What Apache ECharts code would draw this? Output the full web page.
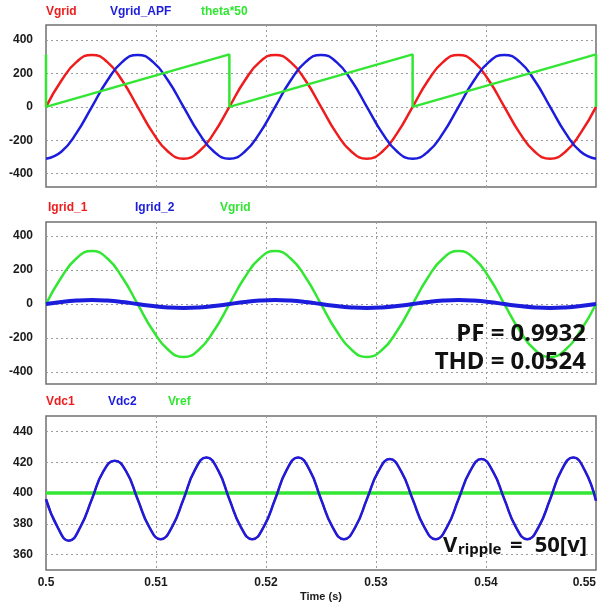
<!DOCTYPE html>
<html>
  <head>
    <meta charset="UTF-8">
    <title>Vgrid / Igrid / Vdc</title>
    <script src="https://cdn.jsdelivr.net/npm/echarts@6/dist/echarts.min.js"></script>
  </head>
  <body style="margin:0;background:#fff">
    <div id="box" style="width:600px;height:606px"></div>
    <script>
        // 60 Hz signals, one sample every 30 deg
        var time60 = [0.5, 0.50139, 0.50278, 0.50417, 0.50556, 0.50694, 0.50833, 0.50972, 0.51111, 0.5125,
            0.51389, 0.51528, 0.51667, 0.51806, 0.51944, 0.52083, 0.52222, 0.52361, 0.525, 0.52639,
            0.52778, 0.52917, 0.53056, 0.53194, 0.53333, 0.53472, 0.53611, 0.5375, 0.53889, 0.54028,
            0.54167, 0.54306, 0.54444, 0.54583, 0.54722, 0.54861, 0.55];
        var vgrid = [0, 156, 269, 311, 269, 156, 0, -156, -269, -311, -269, -156,
            0, 156, 269, 311, 269, 156, 0, -156, -269, -311, -269, -156,
            0, 156, 269, 311, 269, 156, 0, -156, -269, -311, -269, -156, 0];
        var vgridApf = [-311, -269, -156, 0, 156, 269, 311, 269, 156, 0, -156, -269,
            -311, -269, -156, 0, 156, 269, 311, 269, 156, 0, -156, -269,
            -311, -269, -156, 0, 156, 269, 311, 269, 156, 0, -156, -269, -311];
        var thetaTime = [0.5, 0.5, 0.51667, 0.51667, 0.53333, 0.53333, 0.55, 0.55];
        var theta50 = [314, 0, 314, 0, 314, 0, 314, 0];
        var igrid1 = [0, 12, 20, 23, 20, 12, 0, -12, -20, -23, -20, -12,
            0, 12, 20, 23, 20, 12, 0, -12, -20, -23, -20, -12,
            0, 12, 20, 23, 20, 12, 0, -12, -20, -23, -20, -12, 0];
        var igrid2 = [0, 12, 20, 23, 20, 12, 0, -12, -20, -23, -20, -12,
            0, 12, 20, 23, 20, 12, 0, -12, -20, -23, -20, -12,
            0, 12, 20, 23, 20, 12, 0, -12, -20, -23, -20, -12, 0];

        // dc link, 120 Hz ripple, one sample every 45 deg
        var timeDc = [0.5, 0.50104, 0.50208, 0.50313, 0.50417, 0.50521, 0.50625, 0.50729, 0.50833, 0.50938,
            0.51042, 0.51146, 0.5125, 0.51354, 0.51458, 0.51563, 0.51667, 0.51771, 0.51875, 0.51979,
            0.52083, 0.52188, 0.52292, 0.52396, 0.525, 0.52604, 0.52708, 0.52813, 0.52917, 0.53021,
            0.53125, 0.53229, 0.53333, 0.53438, 0.53542, 0.53646, 0.5375, 0.53854, 0.53958, 0.54063,
            0.54167, 0.54271, 0.54375, 0.54479, 0.54583, 0.54688, 0.54792, 0.54896, 0.55];
        var vdc2 = [396, 378, 369, 378, 396, 414, 421, 414, 396, 378,
            370, 378, 396, 415, 423, 415, 396, 378, 370, 378,
            396, 415, 423, 415, 396, 378, 370, 378, 396, 414,
            422, 414, 396, 378, 370, 378, 396, 414, 422, 414,
            396, 378, 370, 378, 396, 415, 423, 415, 395];
        var vdc1 = vdc2.slice();
        var vrefTime = [0.5, 0.55];
        var vref = [400, 400];

        var names1 = ['Vgrid', 'Vgrid_APF', 'theta*50'];
        var names2 = ['Igrid_1', 'Igrid_2', 'Vgrid'];
        var names3 = ['Vdc1', 'Vdc2', 'Vref'];

        var RED = '#ee1c1c', BLUE = '#1c1cdc', GREEN = '#33e633';
        var AX = 'bold 12px "Liberation Sans", Arial, sans-serif';

        function pairs(t, v) {
            return t.map(function (x, i) { return [x, v[i]]; });
        }

        var grids = [
            {left: 46, top: 25, width: 550, height: 162},
            {left: 46, top: 222, width: 550, height: 162},
            {left: 46, top: 416, width: 550, height: 154}
        ];
        var yRange = [[-480, 490], [-470, 482], [350, 450]];

        var split = {show: true, showMinLine: false, showMaxLine: false,
            lineStyle: {color: '#9c9c9c', width: 1, type: [2, 3]}};

        var xAxes = grids.map(function (g, i) {
            return {
                type: 'value', gridIndex: i, min: 0.5, max: 0.55,
                axisLine: {show: false}, axisTick: {show: false},
                splitLine: split,
                axisLabel: {show: i === 2, margin: 7, color: '#1a1a1a',
                    fontWeight: 'bold', fontSize: 12, fontFamily: '"Liberation Sans", Arial',
                    showMinLabel: true, showMaxLabel: true, alignMaxLabel: 'right'},
                name: i === 2 ? 'Time (s)' : '', nameLocation: 'middle', nameGap: 21,
                nameTextStyle: {color: '#1a1a1a', fontWeight: 'bold', fontSize: 11,
                    fontFamily: '"Liberation Sans", Arial'}
            };
        });
        var yAxes = grids.map(function (g, i) {
            return {
                type: 'value', gridIndex: i, min: yRange[i][0], max: yRange[i][1],
                axisLine: {show: false}, axisTick: {show: false},
                splitLine: split,
                axisLabel: {margin: 13, color: '#1a1a1a', fontWeight: 'bold', fontSize: 12,
                    fontFamily: '"Liberation Sans", Arial', showMinLabel: false, showMaxLabel: false}
            };
        });

        function line(name, idx, data, color, width, smooth) {
            return {
                name: name, type: 'line', xAxisIndex: idx, yAxisIndex: idx,
                data: data, showSymbol: false, smooth: smooth, silent: true,
                lineStyle: {color: color, width: width}
            };
        }

        var series = [
            line(names1[0], 0, pairs(time60, vgrid), RED, 2.5, 0.5),
            line(names1[1], 0, pairs(time60, vgridApf), BLUE, 2.5, 0.5),
            line(names1[2], 0, pairs(thetaTime, theta50), GREEN, 2.5, false),
            line(names2[2], 1, pairs(time60, vgrid), GREEN, 2.5, 0.5),
            line(names2[0], 1, pairs(time60, igrid1), RED, 2, 0.5),
            line(names2[1], 1, pairs(time60, igrid2), BLUE, 4, 0.5),
            line(names3[2], 2, pairs(vrefTime, vref), GREEN, 3.5, false),
            line(names3[0], 2, pairs(timeDc, vdc1), RED, 2, 0.5),
            line(names3[1], 2, pairs(timeDc, vdc2), BLUE, 2.5, 0.5)
        ];

        function label(text, x, y, color, font) {
            return {type: 'text', x: x, y: y, silent: true,
                style: {text: text, fill: color, font: font || AX, textVerticalAlign: 'middle'}};
        }
        var colors = [RED, BLUE, GREEN];
        var legendX = [[46, 110, 201], [48, 135, 220], [46, 108, 168]];
        var legendY = [12, 207.5, 401.5];
        var graphics = [];
        [names1, names2, names3].forEach(function (names, p) {
            names.forEach(function (n, k) {
                graphics.push(label(n, legendX[p][k], legendY[p], colors[k]));
            });
        });
        var BIG = 'bold 24px "Noto Sans", sans-serif';
        graphics.push({type: 'text', x: 586, y: 334, silent: true, z: 100,
            style: {text: 'PF = 0.9932', fill: '#111', font: BIG, textAlign: 'right', textVerticalAlign: 'middle'}});
        graphics.push({type: 'text', x: 586, y: 362.5, silent: true, z: 100,
            style: {text: 'THD = 0.0524', fill: '#111', font: BIG, textAlign: 'right', textVerticalAlign: 'middle'}});
        graphics.push({type: 'text', x: 443, y: 546, silent: true, z: 100,
            style: {text: 'V', fill: '#111', font: 'bold 22px "Noto Sans", sans-serif', textVerticalAlign: 'middle'}});
        graphics.push({type: 'text', x: 458, y: 550, silent: true, z: 100,
            style: {text: 'ripple', fill: '#111', font: 'bold 15px "Noto Sans", sans-serif', textVerticalAlign: 'middle'}});
        graphics.push({type: 'text', x: 510, y: 546, silent: true, z: 100,
            style: {text: '=', fill: '#111', font: 'bold 22px "Noto Sans", sans-serif', textVerticalAlign: 'middle'}});
        graphics.push({type: 'text', x: 587, y: 546, silent: true, z: 100,
            style: {text: '50[v]', fill: '#111', font: 'bold 22px "Noto Sans", sans-serif',
                textAlign: 'right', textVerticalAlign: 'middle'}});

        var myChart = echarts.init(document.getElementById('box'));
        myChart.setOption({
            animation: false,
            backgroundColor: '#fff',
            grid: grids.map(function (g) {
                return Object.assign({show: true, borderColor: '#707070', borderWidth: 1.5,
                    backgroundColor: '#fff', outerBoundsMode: 'none'}, g);
            }),
            xAxis: xAxes,
            yAxis: yAxes,
            series: series,
            graphic: graphics
        });
    </script>
  </body>
</html>
